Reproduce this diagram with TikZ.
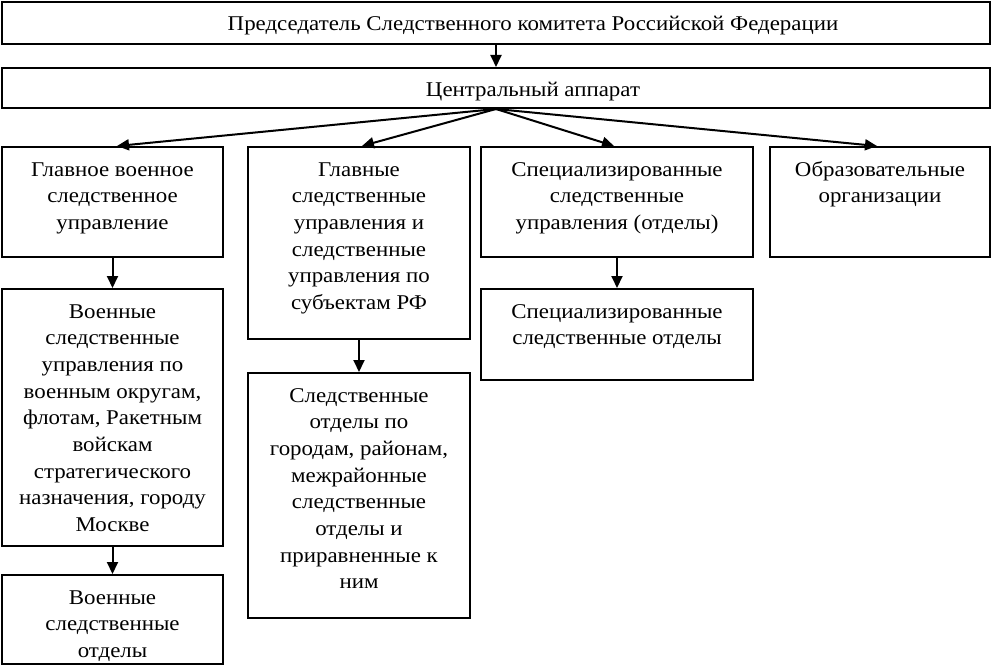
\documentclass[tikz,border=0pt]{standalone}
\usepackage{fontspec}
\setmainfont[FakeStretch=1.09]{Liberation Serif}
\usetikzlibrary{arrows.meta}
\newcommand\bxt[3]{\parbox[c][#1pt][t]{#2pt}{\centering\fontsize{21}{26.7}\selectfont\rule{0pt}{29pt}#3\par}}
\newcommand\shiftt[2]{\hspace*{74pt}\raisebox{-#1pt}[0pt][0pt]{#2}}
\begin{document}
\begin{tikzpicture}[x=1pt,y=-1pt,
  box/.style={draw, line width=2pt, inner sep=0pt},
  arr/.style={line width=2pt, -{Triangle[length=12pt,width=11pt]}},
  font=\fontsize{21}{26.7}\selectfont]
\useasboundingbox (0,0) rectangle (993,666);
\node[box, minimum width=988pt, minimum height=42pt] (top) at (496,23) {\shiftt{8}{Председатель Следственного комитета Российской Федерации}};
\node[box, minimum width=988pt, minimum height=40pt] (cen) at (496,88) {\shiftt{8.5}{Центральный аппарат}};
\node[box] (b1) at (112.5,202) {\bxt{110}{221}{Главное военное\\следственное\\управление}};
\node[box] (b2) at (359,243) {\bxt{192}{222}{Главные\\следственные\\управления и\\следственные\\управления по\\субъектам РФ}};
\node[box] (b3) at (617,202) {\bxt{110}{272}{Специализированные\\следственные\\управления (отделы)}};
\node[box] (b4) at (880,202) {\bxt{110}{220}{Образовательные\\организации}};
\node[box] (b1b) at (112.5,417.5) {\bxt{257}{221}{Военные\\следственные\\управления по\\военным округам,\\флотам, Ракетным\\войскам\\стратегического\\назначения, городу\\Москве}};
\node[box] (b1c) at (112.5,619.5) {\bxt{89}{221}{Военные\\следственные\\отделы}};
\node[box] (b2b) at (359,495.5) {\bxt{245}{222}{Следственные\\отделы по\\городам, районам,\\межрайонные\\следственные\\отделы и\\приравненные к\\ним}};
\node[box] (b3b) at (617,334.5) {\bxt{91}{272}{Специализированные\\следственные отделы}};
\draw[arr] (top.south) -- (cen.north);
\draw[arr] (cen.south) -- ([xshift=4.5pt]b1.north);
\draw[arr] (cen.south) -- ([xshift=3pt]b2.north);
\draw[arr] (cen.south) -- ([xshift=-3pt]b3.north);
\draw[arr] (cen.south) -- ([xshift=-3pt]b4.north);
\draw[arr] (b1.south) -- (b1b.north);
\draw[arr] (b1b.south) -- (b1c.north);
\draw[arr] (b2.south) -- (b2b.north);
\draw[arr] (b3.south) -- (b3b.north);
\end{tikzpicture}
\end{document}
